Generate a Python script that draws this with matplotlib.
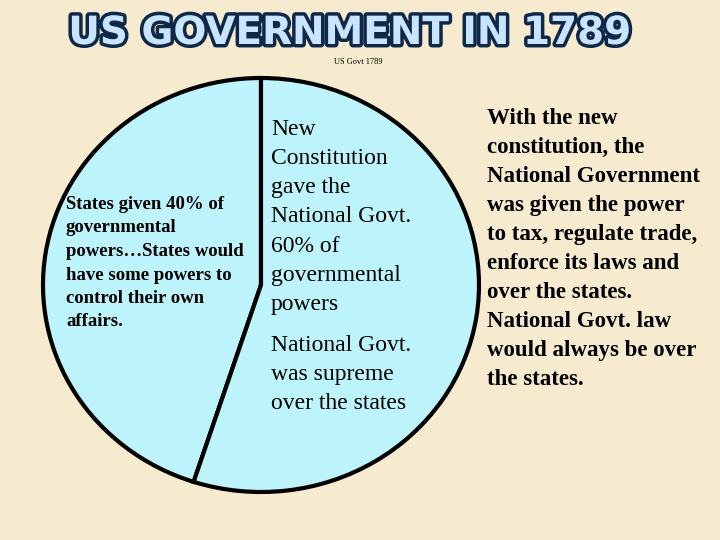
import matplotlib
matplotlib.use("Agg")
import matplotlib.pyplot as plt
import matplotlib.patheffects as pe

shares = [45, 55]
labels = ["States", "National Govt."]
title = "US GOVERNMENT IN 1789"
subtitle = "US Govt 1789"
left_text = "States given 40% of\ngovernmental\npowers…States would\nhave some powers to\ncontrol their own\naffairs."
mid_text1 = "New\nConstitution\ngave the\nNational Govt.\n60% of\ngovernmental\npowers"
mid_text2 = "National Govt.\nwas supreme\nover the states"
right_text = ("With the new\nconstitution, the\nNational Government\nwas given the power\n"
              "to tax, regulate trade,\nenforce its laws and\nover the states.\n"
              "National Govt. law\nwould always be over\nthe states.")

W, H = 720, 540
fig = plt.figure(figsize=(7.2, 5.4), dpi=100)
fig.patch.set_facecolor("#f7ebcf")
cx, cy, rx, ry = 261, 285, 218, 207
ax = fig.add_axes([(cx-rx)/W, 1-(cy+ry)/H, 2*rx/W, 2*ry/H])
ax.pie(shares, colors=["#bdf3fa", "#bdf3fa"], startangle=90, counterclock=True,
       wedgeprops=dict(edgecolor="black", linewidth=3))
ax.set_aspect("auto")
ax.set_xlim(-1.0, 1.0); ax.set_ylim(-1.0, 1.0)
ax.axis("off")

serif = "Liberation Serif"
fig.text(350/W, 1-33/H, title, ha="center", va="center", fontsize=28, fontweight="heavy",
         family="DejaVu Sans", color="#c8e4ff",
         path_effects=[pe.withStroke(linewidth=5, foreground="#102848")])
fig.text(358/W, 1-62/H, subtitle, ha="center", va="center", fontsize=6, family=serif)
fig.text(66/W, 1-196/H, left_text, ha="left", va="top", fontsize=13.5, fontweight="bold",
         family=serif, linespacing=1.5)
fig.text(271/W, 1-119/H, mid_text1, ha="left", va="top", fontsize=17, family=serif, linespacing=1.51)
fig.text(271/W, 1-335/H, mid_text2, ha="left", va="top", fontsize=17, family=serif, linespacing=1.51)
fig.text(487/W, 1-108/H, right_text, ha="left", va="top", fontsize=16.5, fontweight="bold",
         family=serif, linespacing=1.5)
fig.savefig("out.png", dpi=100, facecolor=fig.get_facecolor())
